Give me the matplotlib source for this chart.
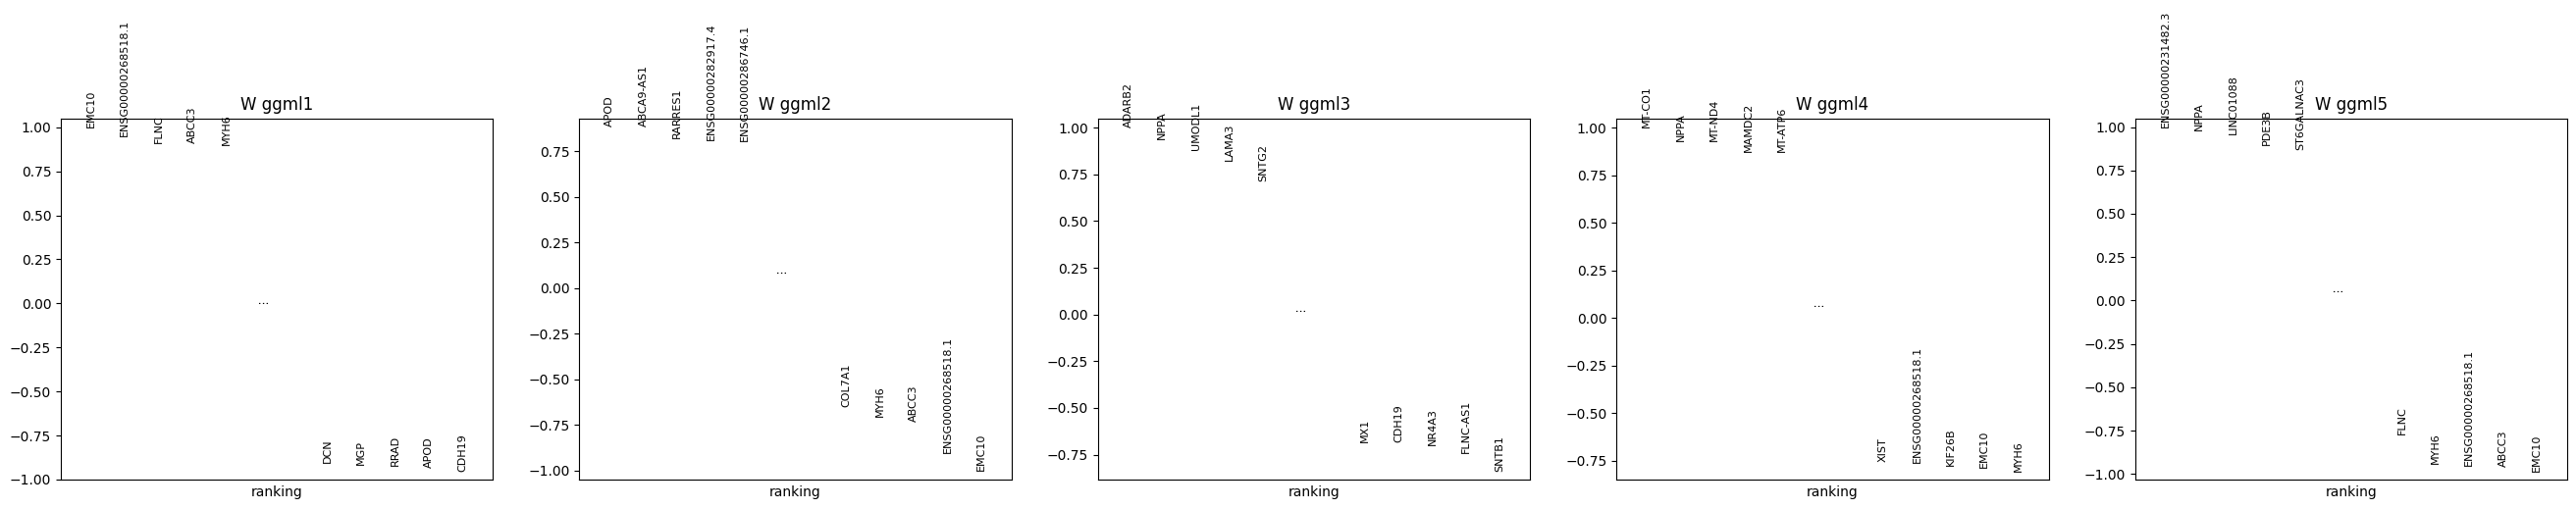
import matplotlib
matplotlib.use('Agg')
import matplotlib.pyplot as plt
from matplotlib import gridspec

keys = ['W_ggml1', 'W_ggml2', 'W_ggml3', 'W_ggml4', 'W_ggml5']

# highest loadings per panel (descending) and lowest loadings (descending)
top_genes_1 = ['EMC10', 'ENSG00000268518.1', 'FLNC', 'ABCC3', 'MYH6']
top_scores_1 = [1.0, 0.950, 0.911, 0.910, 0.900]
low_genes_1 = ['DCN', 'MGP', 'RRAD', 'APOD', 'CDH19']
low_scores_1 = [-0.907, -0.919, -0.920, -0.933, -0.954]

top_genes_2 = ['APOD', 'ABCA9-AS1', 'RARRES1', 'ENSG00000282917.4', 'ENSG00000286746.1']
top_scores_2 = [0.885, 0.883, 0.819, 0.808, 0.804]
low_genes_2 = ['COL7A1', 'MYH6', 'ABCC3', 'ENSG00000268518.1', 'EMC10']
low_scores_2 = [-0.649, -0.703, -0.729, -0.903, -1.0]

top_genes_3 = ['ADARB2', 'NPPA', 'UMODL1', 'LAMA3', 'SNTG2']
top_scores_3 = [1.0, 0.940, 0.883, 0.825, 0.710]
low_genes_3 = ['MX1', 'CDH19', 'NR4A3', 'FLNC-AS1', 'SNTB1']
low_scores_3 = [-0.682, -0.683, -0.698, -0.742, -0.843]

top_genes_4 = ['MT-CO1', 'NPPA', 'MT-ND4', 'MAMDC2', 'MT-ATP6']
top_scores_4 = [1.0, 0.930, 0.929, 0.872, 0.871]
low_genes_4 = ['XIST', 'ENSG00000268518.1', 'KIF26B', 'EMC10', 'MYH6']
low_scores_4 = [-0.757, -0.762, -0.775, -0.787, -0.81]

top_genes_5 = ['ENSG00000231482.3', 'NPPA', 'LINC01088', 'PDE3B', 'ST6GALNAC3']
top_scores_5 = [1.0, 0.981, 0.960, 0.896, 0.868]
low_genes_5 = ['FLNC', 'MYH6', 'ENSG00000268518.1', 'ABCC3', 'EMC10']
low_scores_5 = [-0.770, -0.940, -0.955, -0.959, -0.985]

panels = [
    (top_genes_1, top_scores_1, low_genes_1, low_scores_1),
    (top_genes_2, top_scores_2, low_genes_2, low_scores_2),
    (top_genes_3, top_scores_3, low_genes_3, low_scores_3),
    (top_genes_4, top_scores_4, low_genes_4, low_scores_4),
    (top_genes_5, top_scores_5, low_genes_5, low_scores_5),
]
n_points = 10

fig = plt.figure(figsize=(26.25, 5.19), dpi=100)
gs = gridspec.GridSpec(1, 5, left=62 / 2625, right=2616 / 2625,
                       bottom=1 - 489.3 / 519, top=1 - 120.7 / 519, wspace=0.2)

txt_args = dict(color='black', rotation='vertical', verticalalignment='bottom',
                horizontalalignment='center', fontsize=8)

for i, (tg, ts, lg, ls) in enumerate(panels):
    ax = fig.add_subplot(gs[i])
    for ig, (g, s) in enumerate(zip(tg, ts)):
        ax.text(ig, s, g, **txt_args)
    score_mid = (ts[-1] + ls[0]) / 2
    ax.text(len(tg), score_mid, '\u22ee', **txt_args)
    for ig, (g, s) in enumerate(zip(lg, ls)):
        ax.text(ig + len(tg) + 2, s, g, **txt_args)
    ax.set_xticks([])
    ax.set_title(keys[i].replace('_', ' '))
    ax.set_xlabel('ranking')
    ax.set_xlim(-0.9, n_points + 0.9 + 1)
    smin = min(ls)
    smax = max(ts)
    ax.set_ylim((0.95 if smin > 0 else 1.05) * smin, (1.05 if smax > 0 else 0.95) * smax)

fig.savefig('out.png', dpi=100)
